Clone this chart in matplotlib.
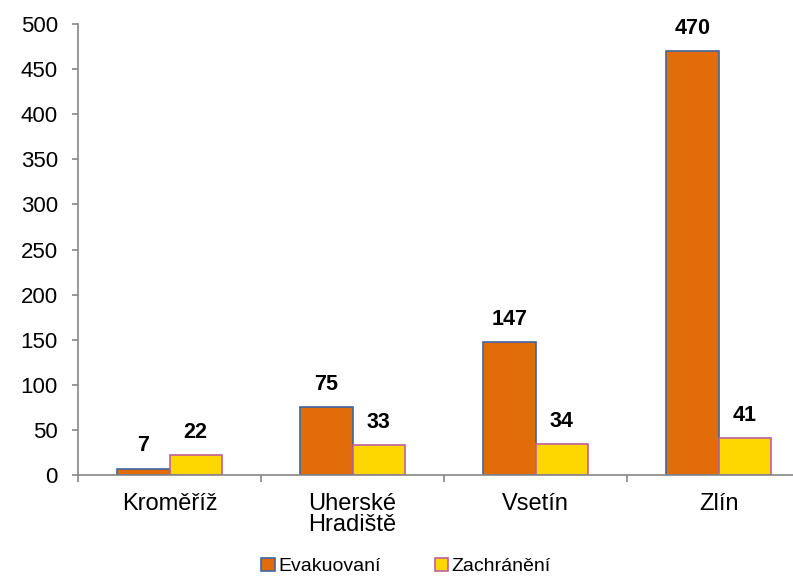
import matplotlib.pyplot as plt
import numpy as np

plt.rcParams['font.family'] = ['Liberation Sans', 'DejaVu Sans']

# data
okresy = ['Kroměříž', 'Uherské\nHradiště', 'Vsetín', 'Zlín']
evakuovani = [7, 75, 147, 470]
zachraneni = [22, 33, 34, 41]

fig = plt.figure(figsize=(7.93, 5.79), dpi=100)
ax = fig.add_axes([78 / 793, 104 / 579, 732 / 793, 451 / 579])

x = np.arange(len(okresy))
w = 0.285
b1 = ax.bar(x - w / 2, evakuovani, w, color='#E36C0A', edgecolor='#3E67A0',
            linewidth=1.2, label='Evakuovaní')
b2 = ax.bar(x + w / 2, zachraneni, w, color='#FFD700', edgecolor='#C0609A',
            linewidth=1.2, label='Zachránění')

for bars in (b1, b2):
    for r in bars:
        ax.annotate(str(int(r.get_height())),
                    (r.get_x() + r.get_width() / 2, r.get_height()),
                    xytext=(0, 9), textcoords='offset points',
                    ha='center', va='bottom', fontsize=15.5, fontweight='bold')

ax.set_xlim(-0.5, len(okresy) - 0.5)
ax.set_ylim(0, 500)
ax.set_yticks(range(0, 501, 50))
ax.tick_params(axis='y', labelsize=16, length=4.5, width=1.2, color='#868686', pad=10)

ax.set_xticks(np.arange(-0.5, len(okresy), 1))
ax.set_xticklabels([])
ax.set_xticks(x, minor=True)
ax.set_xticklabels(okresy, minor=True, linespacing=0.95)
ax.tick_params(axis='x', which='major', length=5, width=1.2, color='#868686')
ax.tick_params(axis='x', which='minor', length=0, labelsize=17, pad=13)

for s in ['top', 'right']:
    ax.spines[s].set_visible(False)
for s in ['left', 'bottom']:
    ax.spines[s].set_color('#868686')
    ax.spines[s].set_linewidth(1.2)

fig.legend(loc='lower center', bbox_to_anchor=(0.512, -0.024), ncol=2,
           frameon=False, fontsize=14, handlelength=0.7, handleheight=0.7,
           handletextpad=0.15, columnspacing=2.8)

fig.savefig('out.png', dpi=100)
